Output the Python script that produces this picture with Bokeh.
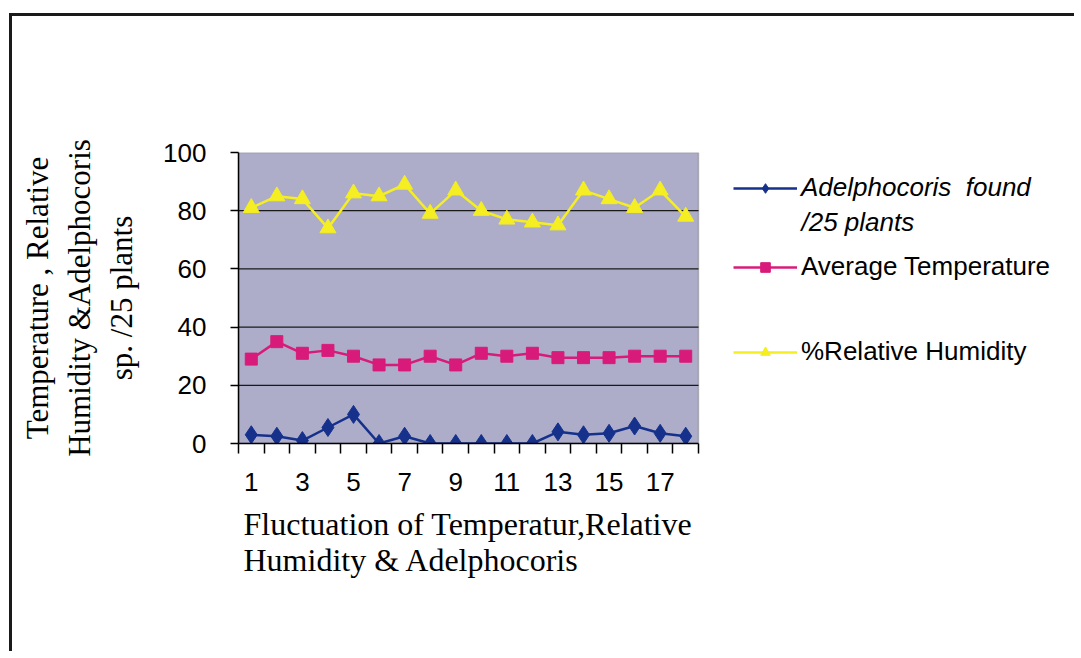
from bokeh.plotting import figure
from bokeh.models import (Range1d, FixedTicker, Label, Legend, LegendItem, Title,
                          BoxAnnotation)
from bokeh.embed import file_html
from bokeh.resources import INLINE

# ---- data ----
samples = list(range(1, 19))
adelphocoris = [3, 2.5, 1, 5.5, 10, 0, 2.5, 0, 0, 0, 0, 0, 4, 3, 3.5, 6, 3.5, 2.5]
temperature = [29, 35, 31, 32, 30, 27, 27, 30, 27, 31, 30, 31, 29.5, 29.5, 29.5, 30, 30, 30]
humidity = [81, 85, 84, 74, 86, 85, 89, 79, 87, 80, 77, 76, 75, 87, 84, 81, 87, 78]
y_ticks = [0, 20, 40, 60, 80, 100]
grid_values = [20, 40, 60, 80]
x_tick_labels = [1, 3, 5, 7, 9, 11, 13, 15, 17]
category_edges = [0.5 + i for i in range(19)]

series_names = ["Adelphocoris  found", "Average Temperature", "%Relative Humidity"]
series_name_2nd_line = "/25 plants"
x_title = "Fluctuation of Temperatur,Relative\nHumidity & Adelphocoris"
y_title = "Temperature , Relative\nHumidity &Adelphocoris\nsp. /25 plants"

BLUE = "#15318C"
PINK = "#D81B7A"
YELLOW = "#F4EE22"
PLOT_BG = "#ADADC9"
SANS = "Liberation Sans"
SERIF = "Liberation Serif"

# ---- layout in pixels ----
W, H = 1065, 638
OX, OY = 12, 16                  # page position of the canvas origin
FRAME_L, FRAME_B = 238, 443      # page pixels of the plot area's left / bottom edge
AREA_W = 460                     # width of the category area
BORDER_L = FRAME_L - OX
FRAME_W = W - BORDER_L           # frame runs to the canvas' right edge (room for legend)
PX_X = AREA_W / (category_edges[-1] - category_edges[0])
PX_Y = 291 / (y_ticks[-1] - y_ticks[0])


def dx(page_x):
    return category_edges[0] + (page_x - FRAME_L) / PX_X


def dy(page_y):
    return (FRAME_B - page_y) / PX_Y


p = figure(width=W, height=H, output_backend="svg", toolbar_location=None,
           x_range=Range1d(category_edges[0], category_edges[0] + FRAME_W / PX_X),
           y_range=Range1d(y_ticks[0], y_ticks[-1]),
           min_border_left=BORDER_L, min_border_right=0, min_border_top=152 - OY,
           min_border_bottom=H - (FRAME_B - OY),
           background_fill_color="white", border_fill_color="white")
p.styles = {"border-top": "3px solid #1a1a1a", "border-left": "3px solid #1a1a1a",
            "margin-top": "13px", "margin-left": "9px"}
p.outline_line_color = None

# plot area (category region) background and border
p.add_layout(BoxAnnotation(left=category_edges[0], right=category_edges[-1],
                           bottom=y_ticks[0], top=y_ticks[-1],
                           fill_color=PLOT_BG, fill_alpha=1.0,
                           line_color="#4a4a4a", line_width=1.5, level="image"))

# x axis: labels on odd categories, tick marks on category edges
p.xaxis.bounds = (category_edges[0], category_edges[-1])
p.xaxis.ticker = FixedTicker(ticks=x_tick_labels, minor_ticks=category_edges)
p.xaxis.major_tick_line_color = None
p.xaxis.major_tick_out = 0
p.xaxis.major_tick_in = 0
p.xaxis.minor_tick_out = 10
p.xaxis.minor_tick_in = 0
p.xaxis.minor_tick_line_color = "black"
p.xaxis.minor_tick_line_width = 1.5
p.xaxis.major_label_standoff = 19
p.xaxis.major_label_text_font = SANS
p.xaxis.major_label_text_font_size = "26px"
p.xaxis.major_label_text_color = "black"
p.xaxis.axis_line_color = "black"
p.xaxis.axis_line_width = 1.5

p.yaxis.ticker = FixedTicker(ticks=y_ticks)
p.yaxis.minor_tick_line_color = None
p.yaxis.major_tick_out = 8
p.yaxis.major_tick_in = 0
p.yaxis.major_tick_line_color = "black"
p.yaxis.major_tick_line_width = 1.5
p.yaxis.major_label_standoff = 24
p.yaxis.major_label_text_font = SANS
p.yaxis.major_label_text_font_size = "26px"
p.yaxis.major_label_text_color = "black"
p.yaxis.axis_line_color = "black"
p.yaxis.axis_line_width = 1.5
p.yaxis.axis_label = y_title
p.yaxis.axis_label_text_font = SERIF
p.yaxis.axis_label_text_font_size = "31px"
p.yaxis.axis_label_text_font_style = "normal"
p.yaxis.axis_label_text_color = "black"
p.yaxis.axis_label_standoff = 21

p.xgrid.visible = False
p.ygrid.visible = False

# horizontal grid lines across the category area only
n = len(grid_values)
p.segment(x0=[category_edges[0]] * n, y0=grid_values,
          x1=[category_edges[-1]] * n, y1=grid_values,
          line_color="#1a1a1a", line_width=1.3)

# ---- series ----
hl = p.line(samples, humidity, line_color=YELLOW, line_width=2.5)
hp = p.scatter(samples, humidity, marker="triangle", size=16, fill_color=YELLOW, line_color=YELLOW)
tl = p.line(samples, temperature, line_color=PINK, line_width=2.5)
tp = p.scatter(samples, temperature, marker="square", size=12, fill_color=PINK, line_color=PINK)
bl = p.line(samples, adelphocoris, line_color=BLUE, line_width=2.5)
bp = p.scatter(samples, adelphocoris, marker="diamond", size=18, fill_color=BLUE, line_color=BLUE)

# ---- legends ----
common = dict(glyph_width=64, glyph_height=24, label_height=24, label_standoff=4,
              padding=0, margin=0, label_text_font=SANS, label_text_font_size="26px",
              label_text_color="black", border_line_color=None, background_fill_alpha=0)
legend_a = Legend(items=[LegendItem(label=series_names[0], renderers=[bl, bp])],
                  location=(733 - FRAME_L, 240), label_text_font_style="italic", **common)
legend_b = Legend(items=[LegendItem(label=series_names[1], renderers=[tl, tp]),
                         LegendItem(label=series_names[2], renderers=[hl, hp])],
                  location=(733 - FRAME_L, 76), spacing=54, **common)
p.add_layout(legend_a, "center")
p.add_layout(legend_b, "center")

p.add_layout(Label(x=dx(801), y=dy(221), text=series_name_2nd_line, text_font=SANS,
                   text_font_size="26px", text_font_style="italic", text_color="black",
                   text_align="left", text_baseline="alphabetic"))

# ---- x axis title (left aligned, two lines) ----
p.add_layout(Title(text=x_title, align="left", offset=5, standoff=20,
                   text_font=SERIF, text_font_size="32px", text_font_style="normal",
                   text_color="black"), "below")

open("out.html", "w").write(file_html(p, INLINE))
